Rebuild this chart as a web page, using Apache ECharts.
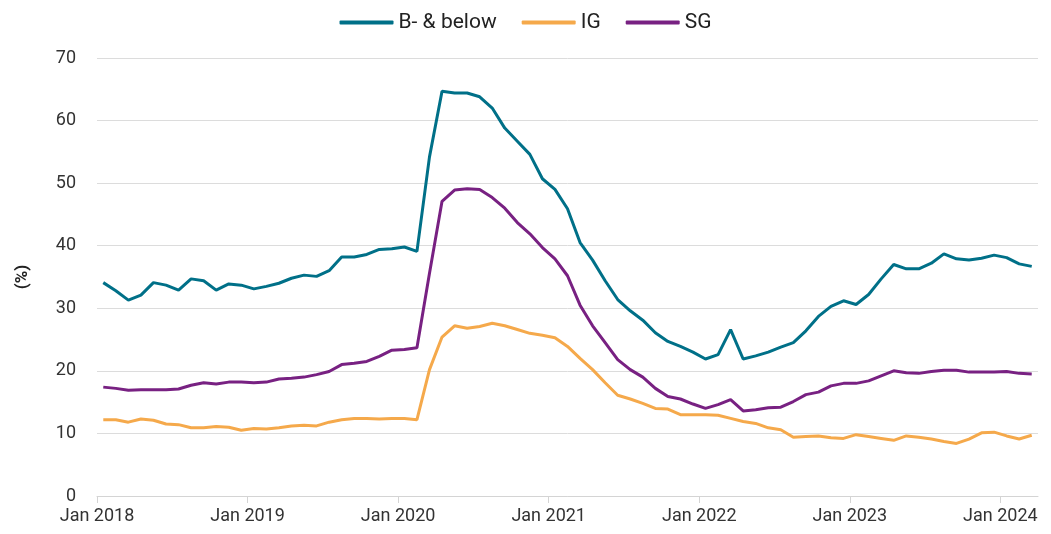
<!DOCTYPE html>
<html>
<head>
<meta charset="utf-8">
<script src="https://cdn.jsdelivr.net/npm/echarts@6/dist/echarts.min.js"></script>
<style>
  html, body { margin: 0; padding: 0; background: #fff; }
  #chart { width: 1051px; height: 534px; }
</style>
</head>
<body>
<div id="chart"></div>
<script>
// monthly, Jan 2018 .. Mar 2024
const startYear = 2018
const months = []
for (let y = 2018; y <= 2024; y++) {
  for (let m = 1; m <= 12; m++) {
    if (y === 2024 && m > 3) break
    months.push(y + '-' + (m < 10 ? '0' + m : m))
  }
}

const bMinus = [
  34.1, 32.8, 31.3, 32.1, 34.1, 33.7, 32.9, 34.7, 34.4, 32.9, 33.9, 33.7,
  33.1, 33.5, 34.0, 34.8, 35.3, 35.1, 36.0, 38.2, 38.2, 38.6, 39.4, 39.5,
  39.8, 39.1, 54.2, 64.7, 64.4, 64.4, 63.8, 62.0, 58.8, 56.7, 54.6, 50.7,
  49.0, 45.9, 40.5, 37.7, 34.4, 31.4, 29.6, 28.1, 26.1, 24.7, 23.9, 23.0,
  21.9, 22.6, 26.6, 21.9, 22.4, 23.0, 23.8, 24.5, 26.4, 28.7, 30.3, 31.2,
  30.6, 32.2, 34.7, 37.0, 36.3, 36.3, 37.2, 38.7, 37.9, 37.7, 38.0, 38.5,
  38.1, 37.1, 36.7
]
const ig = [
  12.2, 12.2, 11.8, 12.3, 12.1, 11.5, 11.4, 10.9, 10.9, 11.1, 11.0, 10.5,
  10.8, 10.7, 10.9, 11.2, 11.3, 11.2, 11.8, 12.2, 12.4, 12.4, 12.3, 12.4,
  12.4, 12.2, 20.2, 25.4, 27.2, 26.8, 27.1, 27.6, 27.2, 26.6, 26.0, 25.7,
  25.3, 23.9, 22.0, 20.2, 18.1, 16.1, 15.5, 14.8, 14.0, 13.9, 13.0, 13.0,
  13.0, 12.9, 12.4, 11.9, 11.6, 10.9, 10.6, 9.4, 9.5, 9.6, 9.3, 9.2,
  9.8, 9.5, 9.2, 8.9, 9.6, 9.4, 9.1, 8.7, 8.4, 9.1, 10.1, 10.2,
  9.6, 9.1, 9.7
]
const sg = [
  17.4, 17.2, 16.9, 17.0, 17.0, 17.0, 17.1, 17.7, 18.1, 17.9, 18.2, 18.2,
  18.1, 18.2, 18.7, 18.8, 19.0, 19.4, 19.9, 21.0, 21.2, 21.5, 22.3, 23.3,
  23.4, 23.7, 35.6, 47.1, 48.9, 49.1, 49.0, 47.7, 46.0, 43.7, 41.9, 39.7,
  37.9, 35.2, 30.5, 27.2, 24.5, 21.8, 20.2, 19.0, 17.2, 15.9, 15.5, 14.7,
  14.0, 14.6, 15.4, 13.6, 13.8, 14.1, 14.2, 15.1, 16.2, 16.6, 17.6, 18.0,
  18.0, 18.4, 19.2, 20.0, 19.7, 19.6, 19.9, 20.1, 20.1, 19.8, 19.8, 19.8,
  19.9, 19.6, 19.5
]
const yearTicks = [0, 12, 24, 36, 48, 60, 72]

// each month sits in the middle of its slot on the month-index axis
function toPoints(arr) {
  return arr.map((v, i) => [i + 0.5, v])
}

const font = 'Roboto, "Liberation Sans", sans-serif'
const chart = echarts.init(document.getElementById('chart'))

const option = {
  backgroundColor: '#ffffff',
  textStyle: { fontFamily: font },
  animation: false,
  legend: {
    top: 7,
    left: 'center',
    icon: 'roundRect',
    itemWidth: 54,
    itemHeight: 4,
    itemGap: 25,
    textStyle: { fontSize: 21, color: '#222', fontFamily: font },
    data: ['B- & below', 'IG', 'SG']
  },
  grid: { left: 97, right: 13, top: 58, bottom: 38 },
  xAxis: {
    type: 'value',
    min: 0,
    max: months.length,
    splitLine: { show: false },
    axisLine: { show: true, lineStyle: { color: '#d4d4d4', width: 1 } },
    axisTick: { show: true, length: 7, customValues: yearTicks, lineStyle: { color: '#d4d4d4' } },
    axisLabel: {
      customValues: yearTicks,
      fontSize: 18,
      color: '#333',
      margin: 11,
      formatter: function (v) {
        return 'Jan ' + (startYear + Math.round(v / 12))
      }
    }
  },
  yAxis: {
    type: 'value',
    min: 0,
    max: 70,
    interval: 10,
    name: '(%)',
    nameLocation: 'middle',
    nameGap: 66,
    nameTextStyle: { fontSize: 17, fontWeight: 'bold', color: '#222' },
    axisLine: { show: false },
    axisTick: { show: false },
    axisLabel: { fontSize: 18, color: '#333', margin: 21 },
    splitLine: { lineStyle: { color: '#dcdcdc', width: 1 } }
  },
  series: [
    {
      name: 'B- & below',
      type: 'line',
      data: toPoints(bMinus),
      showSymbol: false,
      lineStyle: { width: 3, color: '#007088' },
      itemStyle: { color: '#007088' }
    },
    {
      name: 'IG',
      type: 'line',
      data: toPoints(ig),
      showSymbol: false,
      lineStyle: { width: 3, color: '#f5a94b' },
      itemStyle: { color: '#f5a94b' }
    },
    {
      name: 'SG',
      type: 'line',
      data: toPoints(sg),
      showSymbol: false,
      lineStyle: { width: 3, color: '#782182' },
      itemStyle: { color: '#782182' }
    }
  ]
}
chart.setOption(option)
</script>
</body>
</html>
